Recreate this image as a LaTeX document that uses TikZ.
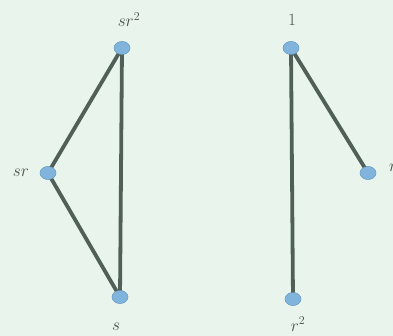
\documentclass[tikz,border=0pt]{standalone}
\usetikzlibrary{shapes.geometric}
\definecolor{bgc}{HTML}{E8F4EC}
\definecolor{vtx}{HTML}{80B4DC}
\definecolor{edgec}{HTML}{515F59}
\definecolor{lbl}{HTML}{4A4E4E}
\begin{document}
\begin{tikzpicture}[x=1pt,y=-1pt,
  vert/.style={ellipse,fill=vtx,draw=vtx!85!black,line width=0.3pt,minimum width=16pt,minimum height=13pt,inner sep=0pt},
  lab/.style={text=lbl,font=\fontsize{18}{20}\selectfont,inner sep=0pt},
  edge/.style={draw=edgec,line width=3.8pt}]
\fill[bgc] (0,0) rectangle (393,336);
\useasboundingbox (0,0) rectangle (393,336);
\node[vert] (sr2) at (122,48) {};
\node[vert] (sr) at (48,173) {};
\node[vert] (s) at (120,297) {};
\node[vert] (e) at (291,48) {};
\node[vert] (r) at (368,173) {};
\node[vert] (r2) at (293,299) {};
\draw[edge] (sr2.center) -- (sr.center);
\draw[edge] (sr.center) -- (s.center);
\draw[edge] (sr2.center) -- (s.center);
\draw[edge] (e.center) -- (r2.center);
\draw[edge] (e.center) -- (r.center);
\node[vert] at (sr2) {};
\node[vert] at (sr) {};
\node[vert] at (s) {};
\node[vert] at (e) {};
\node[vert] at (r) {};
\node[vert] at (r2) {};
\node[lab] (lsr2) at (129,20) {$sr^2$};
\node[lab] (lsr) at (21,173) {$sr$};
\node[lab] (ls) at (116,327) {$s$};
\node[lab] (le) at (292,20) {$1$};
\node[lab,anchor=west] (lr) at (389,168) {$r$};
\node[lab] (lr2) at (298,324) {$r^2$};
\end{tikzpicture}
\end{document}
